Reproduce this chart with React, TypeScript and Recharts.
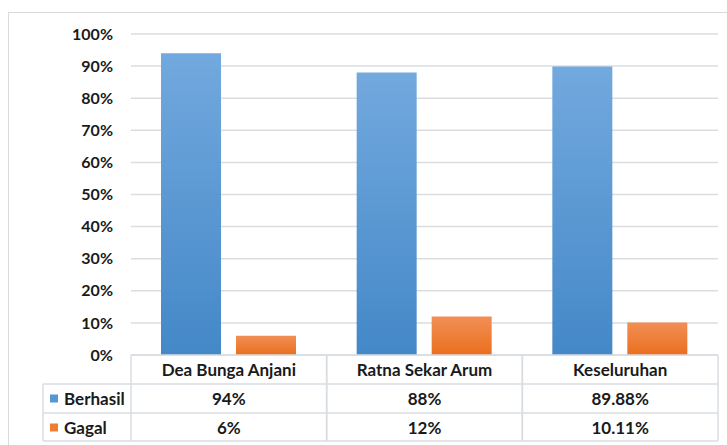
import { BarChart, Bar, XAxis, YAxis, CartesianGrid } from "recharts"

const categories = ["Dea Bunga Anjani", "Ratna Sekar Arum", "Keseluruhan"]
const berhasil = [94, 88, 89.88]
const gagal = [6, 12, 10.11]
const yTicks = [0, 10, 20, 30, 40, 50, 60, 70, 80, 90, 100]

const series = [
  { key: "berhasil", label: "Berhasil", values: berhasil, color: "#5597d5", top: "#72a9de", bottom: "#4488c8" },
  { key: "gagal", label: "Gagal", values: gagal, color: "#ed7d31", top: "#f28f55", bottom: "#ea6f1e" },
]

const data = categories.map((name, i) => ({ name, berhasil: berhasil[i], gagal: gagal[i] }))

const W = 718
const H = 432
const margin = { top: 21, right: 9, bottom: 4, left: 0 }
const Y_W = 122
const COL_W = (W - margin.right - Y_W) / categories.length
const ROW_H = 29
const LEGEND_W = 88
const LINE = "#d9dde2"
const FONT = "Lato, 'Open Sans', sans-serif"
const TXT = 17

function TableTick(props: any) {
  const { x, y, payload } = props
  const i = categories.indexOf(payload.value)
  const left = x - COL_W / 2
  const right = x + COL_W / 2
  const bottom = y + ROW_H * 3 - 1
  return (
    <g>
      <line x1={left} x2={right} y1={y} y2={y} stroke={LINE} strokeWidth={1.5} />
      <line x1={left} x2={right} y1={y + ROW_H} y2={y + ROW_H} stroke={LINE} strokeWidth={1.5} />
      <line x1={left} x2={right} y1={y + ROW_H * 2} y2={y + ROW_H * 2} stroke={LINE} strokeWidth={1.5} />
      <line x1={left} x2={right} y1={bottom} y2={bottom} stroke={LINE} strokeWidth={1.5} />
      <line x1={left} x2={left} y1={y} y2={bottom} stroke={LINE} strokeWidth={1.5} />
      <line x1={right} x2={right} y1={y} y2={bottom} stroke={LINE} strokeWidth={1.5} />
      <text x={x} y={y + ROW_H / 2} dy="0.36em" textAnchor="middle" fontSize={TXT} fontWeight={700} fill="#1a1a1a" fontFamily={FONT}>
        {payload.value}
      </text>
      {series.map((s, r) => (
        <text key={s.key} x={x} y={y + ROW_H * (r + 1.5)} dy="0.36em" textAnchor="middle" fontSize={TXT} fontWeight={700} fill="#1a1a1a" fontFamily={FONT}>
          {`${s.values[i]}%`}
        </text>
      ))}
      {i === 0 && (
        <g>
          <line x1={left - LEGEND_W} x2={left} y1={y + ROW_H} y2={y + ROW_H} stroke={LINE} strokeWidth={1.5} />
          <line x1={left - LEGEND_W} x2={left} y1={y + ROW_H * 2} y2={y + ROW_H * 2} stroke={LINE} strokeWidth={1.5} />
          <line x1={left - LEGEND_W} x2={left} y1={bottom} y2={bottom} stroke={LINE} strokeWidth={1.5} />
          <line x1={left - LEGEND_W} x2={left - LEGEND_W} y1={y + ROW_H} y2={bottom} stroke={LINE} strokeWidth={1.5} />
          {series.map((s, r) => (
            <g key={s.key}>
              <rect x={left - LEGEND_W + 7} y={y + ROW_H * (r + 1.5) - 4} width={8} height={8} fill={s.color} />
              <text x={left - LEGEND_W + 21} y={y + ROW_H * (r + 1.5)} dy="0.36em" fontSize={TXT} fontWeight={700} fill="#1a1a1a" fontFamily={FONT}>
                {s.label}
              </text>
            </g>
          ))}
        </g>
      )}
    </g>
  )
}

export default function App() {
  return (
    <div
      style={{
        position: "fixed",
        left: 8,
        top: 12,
        width: 740,
        height: 450,
        borderTop: "1px solid #d9d9d9",
        borderLeft: "1px solid #d9d9d9",
        background: "#fff",
      }}
    >
      <BarChart width={W} height={H} data={data} margin={margin} barSize={60} barGap={15}>
        <defs>
          {series.map((s) => (
            <linearGradient key={s.key} id={`grad-${s.key}`} x1="0" y1="0" x2="0" y2="1">
              <stop offset="0%" stopColor={s.top} />
              <stop offset="100%" stopColor={s.bottom} />
            </linearGradient>
          ))}
        </defs>
        <CartesianGrid horizontal vertical={false} stroke={LINE} strokeWidth={1.5} />
        <XAxis
          dataKey="name"
          height={86}
          axisLine={false}
          tickLine={false}
          tickSize={0}
          tickMargin={0}
          interval={0}
          tick={<TableTick />}
        />
        <YAxis
          width={Y_W}
          domain={[0, 100]}
          ticks={yTicks}
          axisLine={false}
          tickLine={false}
          tickSize={0}
          tickMargin={18}
          tickFormatter={(v) => `${v}%`}
          tick={{ fontSize: 16, fontWeight: 700, fill: "#1a1a1a", fontFamily: FONT }}
        />
        {series.map((s) => (
          <Bar key={s.key} dataKey={s.key} name={s.label} fill={`url(#grad-${s.key})`} isAnimationActive={false} />
        ))}
      </BarChart>
    </div>
  )
}
